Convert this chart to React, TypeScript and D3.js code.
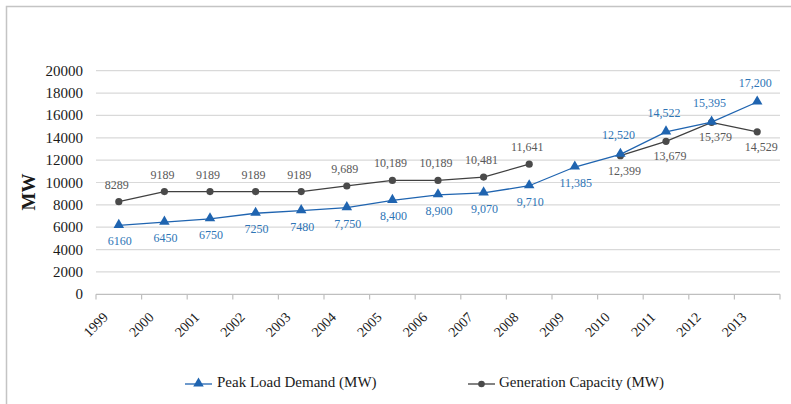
import React from "react";
import * as d3 from "d3";

const years = ["1999","2000","2001","2002","2003","2004","2005","2006","2007","2008","2009","2010","2011","2012","2013"];
const peakLoad: number[] = [6160,6450,6750,7250,7480,7750,8400,8900,9070,9710,11385,12520,14522,15395,17200];
const peakLabels = ["6160","6450","6750","7250","7480","7,750","8,400","8,900","9,070","9,710","11,385","12,520","14,522","15,395","17,200"];
const genCap: (number | null)[] = [8289,9189,9189,9189,9189,9689,10189,10189,10481,11641,null,12399,13679,15379,14529];
const genLabels = ["8289","9189","9189","9189","9189","9,689","10,189","10,189","10,481","11,641","","12,399","13,679","15,379","14,529"];
// label placement: true = above the point
const peakAbove = [false,false,false,false,false,false,false,false,false,false,false,true,true,true,true];
const genAbove = [true,true,true,true,true,true,true,true,true,true,true,false,false,false,false];
const yTicks = [0,2000,4000,6000,8000,10000,12000,14000,16000,18000,20000];

const W = 791, H = 404;
const FONT = "Liberation Serif, Tinos, DejaVu Serif, serif";
const BLUE = "#1f64b0";
const BLUE_TXT = "#2e75b6";
const GRAY = "#404040";
const GRAY_M = "#4a4a4a";
const GRAY_TXT = "#595959";

export default function App() {
  const x = d3.scaleBand<string>().domain(years).range([96, 780]).padding(0);
  const y = d3.scaleLinear().domain([0, 20000]).range([294.3, 70.7]);
  const cx = (i: number) => (x(years[i]) as number) + x.bandwidth() / 2;

  const line = d3.line<number | null>()
    .defined((d) => d !== null)
    .x((_, i) => cx(i))
    .y((d) => y(d as number));

  const tri = d3.symbol().type(d3.symbolTriangle).size(48)();
  const boundaries = [...years.map((yr) => x(yr) as number), 780];

  return (
    <svg width={W} height={H} style={{ position: "absolute", left: 0, top: 0, background: "#fff", fontFamily: FONT }}>
      <rect x={6.5} y={6.5} width={W + 10} height={H + 10} fill="#fff" stroke="#c4c4c4" strokeWidth={1.5} />
      {yTicks.map((t) => (
        <line key={t} x1={96} x2={780} y1={y(t)} y2={y(t)} stroke={t === 0 ? "#bfbfbf" : "#d9d9d9"} strokeWidth={1.2} />
      ))}
      {yTicks.map((t) => (
        <text key={"l" + t} x={83} y={y(t)} textAnchor="end" dominantBaseline="central" fontSize={15} fill="#1a1a1a">{t}</text>
      ))}
      {boundaries.map((b, i) => (
        <line key={"t" + i} x1={b} x2={b} y1={294.3} y2={299.5} stroke="#bfbfbf" strokeWidth={1.2} />
      ))}
      {years.map((yr, i) => (
        <text key={"x" + yr} transform={`translate(${boundaries[i] + 13},${318}) rotate(-45)`} textAnchor="end" fontSize={14} fill="#1a1a1a">{yr}</text>
      ))}
      <text transform="translate(28,192) rotate(-90)" textAnchor="middle" dominantBaseline="central" fontSize={19} fontWeight="bold" fill="#1a1a1a">MW</text>

      <path d={line(genCap) || ""} fill="none" stroke={GRAY} strokeWidth={1.3} />
      {genCap.map((v, i) => v === null ? null : (
        <circle key={"g" + i} cx={cx(i)} cy={y(v)} r={3.6} fill={GRAY_M} />
      ))}
      <path d={line(peakLoad) || ""} fill="none" stroke={BLUE} strokeWidth={1.3} />
      {peakLoad.map((v, i) => (
        <path key={"p" + i} d={tri || ""} transform={`translate(${cx(i)},${y(v) - 0.5})`} fill={BLUE} />
      ))}

      {genCap.map((v, i) => v === null ? null : (
        <text key={"gl" + i} x={cx(i) + (genAbove[i] ? -2 : 4)} y={y(v) + (genAbove[i] ? -17 : 15)} textAnchor="middle" dominantBaseline="central" fontSize={12} fill={GRAY_TXT}>{genLabels[i]}</text>
      ))}
      {peakLoad.map((v, i) => (
        <text key={"pl" + i} x={cx(i) + (peakAbove[i] ? -2 : 1)} y={y(v) + (peakAbove[i] ? -19 : 16)} textAnchor="middle" dominantBaseline="central" fontSize={12} fill={BLUE_TXT}>{peakLabels[i]}</text>
      ))}

      <line x1={185} x2={212} y1={384} y2={384} stroke={BLUE} strokeWidth={1.3} />
      <path d={tri || ""} transform="translate(198.5,383.5)" fill={BLUE} />
      <text x={217} y={382} dominantBaseline="central" fontSize={15} fill="#1a1a1a">Peak Load Demand (MW)</text>
      <line x1={468} x2={495} y1={384} y2={384} stroke={GRAY} strokeWidth={1.3} />
      <circle cx={481.5} cy={384} r={3.3} fill={GRAY_M} />
      <text x={499} y={382} dominantBaseline="central" fontSize={15} fill="#1a1a1a">Generation Capacity (MW)</text>
    </svg>
  );
}
